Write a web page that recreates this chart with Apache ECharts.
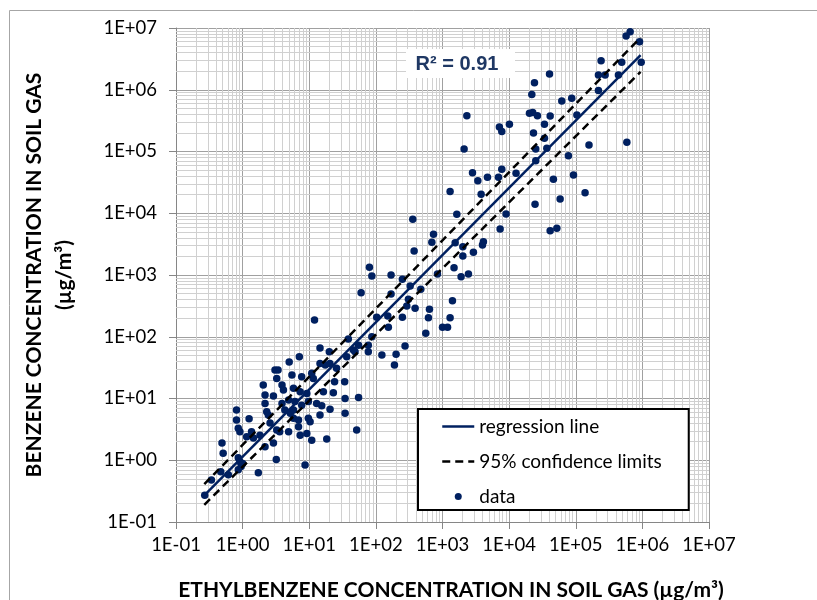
<!DOCTYPE html>
<html>
<head>
<meta charset="utf-8">
<script src="https://cdn.jsdelivr.net/npm/echarts@6/dist/echarts.min.js"></script>
<style>
html,body{margin:0;padding:0;background:#fff;}
#chart{width:817px;height:600px;}
</style>
</head>
<body>
<div id="chart"></div>
<script>
// ---- data (ethylbenzene µg/m3, benzene µg/m3) ----
const lowGroup = [
  [0.27,0.27],[0.34,0.48],[0.47,0.65],[0.49,1.9],[0.51,1.3],[0.61,0.58],[0.81,6.5],[0.81,4.5],
  [0.86,3.3],[0.91,2.9],[0.86,1.1],[0.91,0.95],[0.95,0.79],[0.86,0.7],[1.0,0.89],[1.25,4.7],
  [1.15,2.4],[1.36,2.9],[1.45,2.3],[1.72,0.63],[1.82,2.55],[2.17,11.4],[2.9,11],[2.17,8.3],
  [2.43,5.4],[2.58,4.0],[2.17,1.66],[2.9,1.9],[3.2,1.03],[3.9,8.3],[3.25,3.1],[3.6,2.9],
  [4.9,2.9],[4.3,6.5],[8.65,0.84],[6.9,3.5],[7.3,2.55],[9.2,2.7],[10.9,2.1],[18.3,2.2],[51.5,3.1]
];
const midGroup = [
  [12,187],[38.6,92],[55,73],[46,61],[14.5,66],[20,57],[5,39],[7.1,47.5],[14.5,37],[17.4,35],
  [20.4,37],[25.7,31],[3.06,29],[3.4,29],[3.25,21],[5.5,24],[7.7,22.5],[10.9,25.6],[11.5,21],
  [24,18.7],[34,18.7],[2.04,16.5],[3.9,16.5],[4.1,13.7],[5.8,14.6],[7.3,12.9],[9.2,12.1],
  [16.3,12.9],[23,12.4],[34.5,10],[55,10.4],[4.9,9.5],[6.1,8.95],[7.7,7.8],[9.7,8.95],
  [12.9,8.3],[15.4,7.6],[20.5,6.7],[14.5,5.4],[34.5,5.75],[2.3,6.1],[5.8,4.8],[6.9,4.5],
  [9.7,4.8],[10.3,4.2],[5.2,5.75],[5.8,6.5],[48.7,57],[36.5,47.5]
];
const centerGroup = [
  [1640,9600],[358,8000],[733,4560],[692,3390],[1550,3340],[2020,2870],[2910,2330],[2020,2030],
  [375,2450],[1490,1310],[2450,1040],[1900,940],[840,1040],[80,1330],[87,965],[169,1000],
  [250,850],[327,664],[472,587],[60,516],[169,492],[308,404],[291,315],[388,289],[1410,384],
  [637,278],[615,204],[1300,204],[103,207],[151,217],[250,207],[154,142],[561,114],[1000,142],
  [1190,142],[87,100],[77,73],[77,57],[274,71],[123,50.6],[201,52],[190,35]
];
const upperGroup = [
  [24000,1.3e6],[21900,8.4e5],[61700,6.6e5],[87000,7.3e5],[20200,4.16e5],[22600,4.3e5],
  [26600,3.8e5],[41300,3.76e5],[1.04e5,3.9e5],[2320,3.8e5],[33900,2.76e5],[7140,2.5e5],
  [10100,2.76e5],[7760,2.1e5],[23200,2e5],[33900,1.64e5],[2110,1.1e5],[25100,1.1e5],
  [36800,1.13e5],[25100,7.1e4],[77600,8.5e4],[2820,45400],[3390,33700],[4730,38200],
  [7760,51500],[6920,38200],[12700,44400],[46200,35500],[92500,41700],[1300,22400],
  [3800,20300],[58300,17000],[24500,14000],[9000,9700],[7330,5560],[41300,5200],[52000,5700],
  [4110,3460],[3980,3060],[40400,1.8e6]
];
const topGroup = [
  [6.56e5,8.7e6],[5.7e5,7.4e6],[9.06e5,6e6],[9.6e5,2.8e6],[2.4e5,2.95e6],[4.9e5,2.8e6],
  [2.19e5,1.73e6],[2.76e5,1.73e6],[4.37e5,1.73e6],[2.19e5,9.7e5],[1.58e5,1.27e5],
  [5.85e5,1.41e5],[1.38e5,21500]
];

// regression line and 95% confidence limits (end points)
const lineX = [0.266, 9.4e5];
const regressionY = [0.27, 3.65e6];
const upperLimitY = [0.41, 7.0e6];
const lowerLimitY = [0.19, 1.95e6];

const axisMin = 0.1, axisMax = 1e7;
const rSquaredText = 'R² = 0.91';

// ---- build ----
const scatterData = [].concat(lowGroup, midGroup, centerGroup, upperGroup, topGroup);
const toLine = ys => lineX.map((x, i) => [x, ys[i]]);

const minorValues = [];
for (let e = -1; e < 7; e++) {
  for (let m = 2; m <= 9; m++) minorValues.push(m * Math.pow(10, e));
}
const minorLines = [];
minorValues.forEach(v => { minorLines.push({xAxis: v}); minorLines.push({yAxis: v}); });

function sciLabel(v) {
  const e = Math.round(Math.log10(v));
  return '1E' + (e < 0 ? '-' : '+') + String(Math.abs(e)).padStart(2, '0');
}

const navy = '#002060';
const tickFont = 'Lato';
const axisCommon = {
  type: 'log', logBase: 10, min: axisMin, max: axisMax, splitNumber: 8,
  axisLine: {show: true, lineStyle: {color: '#868686', width: 1}},
  axisTick: {show: true, length: 7, lineStyle: {color: '#868686'}},
  splitLine: {show: true, lineStyle: {color: '#a0a0a0', width: 1}},
  minorTick: {show: false}, minorSplitLine: {show: false},
  axisLabel: {formatter: sciLabel, fontFamily: tickFont, fontSize: 18.5, color: '#000', showMinLabel: true, showMaxLabel: true}
};

const chart = echarts.init(document.getElementById('chart'), null, {renderer: 'canvas'});
chart.setOption({
  animation: false,
  backgroundColor: '#fff',
  grid: {left: 176, right: 108, top: 28, bottom: 78, containLabel: false},
  xAxis: Object.assign({}, axisCommon, {axisLabel: Object.assign({}, axisCommon.axisLabel, {margin: 14})}),
  yAxis: Object.assign({}, axisCommon, {axisLabel: Object.assign({}, axisCommon.axisLabel, {margin: 19})}),
  legend: {
    left: 418, top: 409, orient: 'vertical', selectedMode: false,
    itemWidth: 32, itemHeight: 7, itemGap: 16,
    padding: [8, 27, 4, 23],
    borderColor: '#000', borderWidth: 2, backgroundColor: '#fff',
    lineStyle: {width: 2.5},
    textStyle: {fontFamily: tickFont, fontSize: 19, color: '#000'},
    data: [
      {name: 'regression line', itemStyle: {opacity: 0}},
      {name: '95% confidence limits', itemStyle: {opacity: 0}},
      {name: 'data'}
    ],
    z: 20
  },
  graphic: [
    {type: 'rect', z: 0, silent: true, shape: {x: 9.5, y: 10.5, width: 850, height: 650}, style: {fill: 'none', stroke: '#a6a6a6', lineWidth: 1}},
    {type: 'rect', z: 50, silent: true, shape: {x: 406, y: 49, width: 109, height: 29}, style: {fill: '#fff'}},
    {type: 'text', z: 51, silent: true, x: 457, y: 64, style: {text: rSquaredText, font: 'bold 20px "Liberation Sans", Arial, sans-serif', fill: '#1f3864', textAlign: 'center', textVerticalAlign: 'middle'}},
    {type: 'text', z: 51, silent: true, x: 34, y: 275, rotation: Math.PI / 2, style: {text: 'BENZENE CONCENTRATION IN SOIL GAS', font: 'bold 21px Lato', fill: '#000', textAlign: 'center', textVerticalAlign: 'middle'}},
    {type: 'text', z: 51, silent: true, x: 64, y: 275, rotation: Math.PI / 2, style: {text: '(µg/m³)', font: 'bold 21px Lato', fill: '#000', textAlign: 'center', textVerticalAlign: 'middle'}},
    {type: 'text', z: 51, silent: true, x: 451, y: 590, style: {text: 'ETHYLBENZENE CONCENTRATION IN SOIL GAS (µg/m³)', font: 'bold 21px Lato', fill: '#000', textAlign: 'center', textVerticalAlign: 'middle'}}
  ],
  series: [
    {
      name: 'minor grid', type: 'line', data: [], z: 1, silent: true,
      markLine: {z: 1, silent: true, symbol: ['none', 'none'], label: {show: false}, animation: false,
        lineStyle: {color: '#d0d0d0', width: 1, type: 'solid'}, emphasis: {disabled: true},
        data: minorLines}
    },
    {
      name: 'data', type: 'scatter', data: scatterData, symbol: 'circle', symbolSize: 7.5,
      itemStyle: {color: navy, opacity: 1}, z: 3
    },
    {
      name: 'regression line', type: 'line', data: toLine(regressionY), symbol: 'none', z: 4,
      lineStyle: {color: navy, width: 2.5}, itemStyle: {color: navy}
    },
    {
      name: '95% confidence limits', type: 'line', data: toLine(upperLimitY), symbol: 'none', z: 4,
      lineStyle: {color: '#000', width: 2.5, type: [8, 5]}, itemStyle: {color: '#000'}
    },
    {
      name: '95% confidence limits', type: 'line', data: toLine(lowerLimitY), symbol: 'none', z: 4,
      lineStyle: {color: '#000', width: 2.5, type: [8, 5]}, itemStyle: {color: '#000'}
    }
  ]
});
</script>
</body>
</html>
